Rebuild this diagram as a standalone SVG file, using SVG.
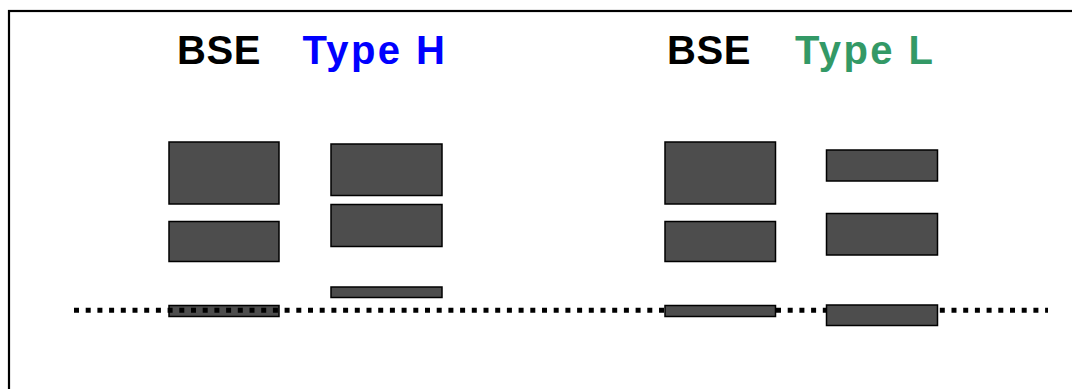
<svg xmlns="http://www.w3.org/2000/svg" width="1072" height="389" viewBox="0 0 1072 389">
<style>
.band{fill:#4d4d4d;stroke:#000;stroke-width:1.5}
.lbl{font-family:"Liberation Sans",Arial,sans-serif;font-weight:bold;font-size:40px}
.typ{letter-spacing:2.4px}
</style>
<rect x="0" y="0" width="1072" height="389" fill="#fff"/>
<rect x="9" y="11" width="1100" height="420" fill="none" stroke="#000" stroke-width="2.2"/>
<g id="title-bse-h"><text class="lbl" x="177" y="63.5" fill="#000" letter-spacing="0.6">BSE</text></g>
<g id="title-type-h"><text class="lbl typ" x="302.5" y="63.5" fill="#0000ff">Type H</text></g>
<g id="title-bse-l"><text class="lbl" x="667" y="63.5" fill="#000" letter-spacing="0.6">BSE</text></g>
<g id="title-type-l"><text class="lbl typ" x="795" y="63.5" fill="#339966">Type L</text></g>
<g id="bse-h-bands">
<rect class="band" x="169" y="142" width="110" height="62"/>
<rect class="band" x="169" y="221.5" width="110" height="40"/>
<rect class="band" x="169" y="305.5" width="110" height="11"/>
</g>
<g id="connectors">
<line x1="74" y1="310.3" x2="1048" y2="310.3" stroke="#000" stroke-width="5" stroke-dasharray="5 6.7"/>
</g>
<g id="type-h-bands">
<rect class="band" x="331" y="144" width="111" height="51.5"/>
<rect class="band" x="331" y="204.5" width="111" height="42"/>
<rect class="band" x="331" y="287" width="111" height="10.5"/>
</g>
<g id="bse-l-bands">
<rect class="band" x="665" y="142" width="110.5" height="62"/>
<rect class="band" x="665" y="221.5" width="110.5" height="40"/>
<rect class="band" x="665" y="305.5" width="110.5" height="11"/>
</g>
<g id="type-l-bands">
<rect class="band" x="826.5" y="150" width="111" height="31"/>
<rect class="band" x="826.5" y="213.5" width="111" height="41.5"/>
<rect class="band" x="826.5" y="305" width="111" height="20.5"/>
</g>
</svg>
